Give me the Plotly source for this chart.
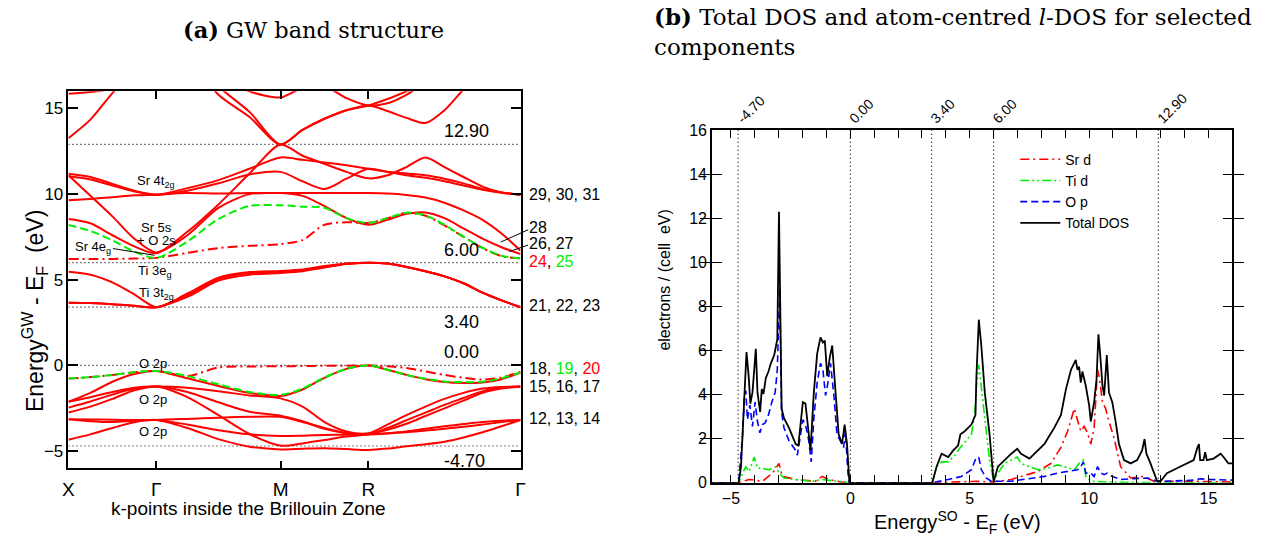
import numpy as np
import plotly.graph_objects as go

W, H = 1281, 548

# ---------------- band structure data ----------------
# high-symmetry points along X-G-M-R-G (units of 2pi/a)
k_nodes = [0.0, 0.5, 1.2071, 1.7071, 2.5731]
k_labels = ["X", "Γ", "M", "R", "Γ"]
# energies sampled at 5 points on X-G, G-M, M-R and 9 points on R-G (shared end points)
pts_per_seg = [5, 5, 5, 9]
k_grid = np.concatenate([np.linspace(k_nodes[i], k_nodes[i + 1], pts_per_seg[i])[(0 if i == 0 else 1):]
                         for i in range(4)])

# valence bands (O 2p)
band_12 = [-4.33, -4.02, -3.65, -3.31, -3.18, -3.65, -4.30, -4.74, -4.90, -4.86, -4.83, -4.88, -4.93,
           -4.85, -4.72, -4.60, -4.45, -4.20, -3.90, -3.55, -3.18]
band_13 = [-3.14, -3.15, -3.17, -3.18, -3.18, -3.12, -3.05, -3.00, -3.00, -3.30, -3.65, -3.95, -4.02,
           -3.95, -3.85, -3.70, -3.55, -3.42, -3.30, -3.22, -3.18]
band_14 = [-3.14, -3.25, -3.30, -3.23, -3.18, -3.45, -3.78, -4.02, -4.12, -4.10, -4.06, -4.04, -4.02,
           -3.97, -3.90, -3.80, -3.70, -3.58, -3.45, -3.30, -3.18]
band_15 = [-2.74, -2.40, -1.95, -1.45, -1.23, -1.85, -2.90, -4.00, -4.68, -4.55, -4.35, -4.15, -4.02,
           -3.75, -3.40, -2.95, -2.50, -2.05, -1.60, -1.35, -1.23]
band_16 = [-2.46, -2.10, -1.70, -1.35, -1.23, -1.55, -2.15, -2.70, -2.93, -3.25, -3.70, -3.95, -4.02,
           -3.65, -3.20, -2.75, -2.30, -1.90, -1.50, -1.30, -1.23]
band_17 = [-2.12, -1.85, -1.55, -1.30, -1.23, -1.30, -1.50, -1.75, -1.92, -2.40, -3.30, -3.85, -3.95,
           -3.45, -2.90, -2.40, -1.95, -1.60, -1.35, -1.25, -1.23]
band_18 = [-2.12, -1.60, -0.95, -0.50, -0.32, -0.75, -1.20, -1.60, -1.78, -1.40, -0.72, -0.20, 0.00,
           -0.25, -0.55, -0.80, -0.96, -1.02, -1.00, -0.80, -0.41]
band_19 = [-0.76, -0.68, -0.55, -0.40, -0.32, -0.62, -1.10, -1.55, -1.72, -1.35, -0.70, -0.20, 0.00,
           -0.25, -0.55, -0.78, -0.93, -0.97, -0.95, -0.75, -0.41]
band_20 = [-0.76, -0.68, -0.55, -0.40, -0.32, -0.62, -0.12, -0.06, -0.05, -0.03, -0.02, -0.01, 0.00,
           -0.05, -0.15, -0.35, -0.55, -0.72, -0.82, -0.70, -0.38]
# Ti 3t2g
band_21 = [3.66, 3.64, 3.58, 3.48, 3.40, 4.00, 4.95, 5.30, 5.40, 5.50, 5.72, 5.92, 6.00,
           5.95, 5.75, 5.50, 5.20, 4.80, 4.25, 3.80, 3.40]
band_22 = [3.66, 3.64, 3.58, 3.48, 3.40, 4.10, 5.05, 5.40, 5.47, 5.55, 5.76, 5.94, 6.00,
           5.95, 5.75, 5.50, 5.20, 4.80, 4.25, 3.80, 3.40]
band_23 = [5.47, 5.30, 4.85, 4.15, 3.40, 4.20, 5.12, 5.45, 5.52, 5.60, 5.80, 5.95, 6.00,
           5.95, 5.75, 5.50, 5.20, 4.80, 4.25, 3.80, 3.40]
# Ti 3eg / Sr 4eg
band_24 = [6.22, 6.22, 6.22, 6.24, 6.28, 6.57, 6.85, 6.98, 7.08, 7.32, 8.21, 8.36, 8.32,
           8.59, 8.90, 8.74, 8.17, 7.51, 6.85, 6.38, 6.25]
band_25 = [8.20, 7.85, 7.30, 6.65, 6.28, 7.23, 8.55, 9.31, 9.35, 9.27, 9.20, 8.60, 8.32,
           8.60, 8.92, 8.76, 8.20, 7.52, 6.87, 6.40, 6.25]
# Sr 5s + O 2s and higher bands
band_26 = [8.55, 8.30, 7.60, 6.95, 6.55, 7.80, 9.40, 11.20, 12.90, 12.24, 11.77, 11.30, 10.92,
           11.10, 11.58, 12.14, 11.58, 11.00, 10.44, 10.10, 9.97]
band_27 = [11.10, 9.90, 8.70, 7.40, 6.60, 7.60, 9.20, 10.00, 10.06, 10.06, 10.06, 10.06, 10.06,
           10.03, 9.95, 9.80, 9.50, 9.05, 8.50, 7.70, 6.70]
band_28 = [9.64, 9.72, 9.82, 9.93, 9.97, 10.06, 10.03, 10.06, 10.06, 9.90, 9.30, 8.60, 8.21,
           8.50, 8.85, 8.93, 8.60, 8.00, 7.40, 6.90, 6.50]
band_29 = [11.19, 11.00, 10.60, 10.20, 9.97, 10.35, 10.82, 11.48, 12.14, 12.00, 11.85, 11.68, 11.48,
           11.30, 11.20, 11.10, 10.90, 10.63, 10.30, 10.10, 9.97]
band_30 = [11.04, 10.85, 10.50, 10.15, 9.97, 10.20, 10.63, 11.15, 11.30, 10.75, 10.30, 10.90, 11.48,
           11.30, 11.10, 10.95, 10.75, 10.50, 10.25, 10.08, 9.97]
band_31 = [13.27, 14.35, 15.90, 17.30, 18.50, 18.00, 15.80, 14.50, 12.90, 13.75, 14.40, 14.90, 15.17,
           14.85, 14.45, 14.15, 14.90, 16.10, 17.00, 17.50, 18.00]
band_32 = [15.86, 15.96, 16.15, 16.60, 17.20, 18.50, 16.30, 14.80, 12.90, 13.75, 14.40, 14.90, 15.17,
           15.55, 16.00, 16.50, 17.00, 17.50, 18.00, 18.50, 19.00]
band_33 = [17.50, 17.80, 18.20, 18.60, 19.00, 18.00, 17.00, 16.00, 15.64, 16.20, 16.30, 15.60, 15.17,
           15.30, 15.80, 16.50, 17.00, 17.50, 18.00, 18.50, 19.00]

solid_bands = [band_12, band_13, band_14, band_15, band_16, band_17, band_18,
               band_21, band_22, band_23, band_26, band_27, band_28, band_29,
               band_30, band_31, band_32, band_33]
dashdot_bands = [band_20, band_24]
green_bands = [band_19, band_25]

ref_levels = [-4.70, 0.00, 3.40, 6.00, 12.90]
ref_text = ["-4.70", "0.00", "3.40", "6.00", "12.90"]

# ---------------- DOS data ----------------
tot_E = [-6.0, -4.68, -4.58, -4.44, -4.35, -4.26, -4.19, -4.10, -3.96, -3.89, -3.78, -3.71, -3.64, -3.54,
         -3.43, -3.33, -3.19, -3.06, -2.99, -2.88, -2.78, -2.57, -2.29, -2.18, -2.08, -1.99, -1.88,
         -1.76, -1.67, -1.53, -1.39, -1.25, -1.15, -1.07, -0.97, -0.86, -0.76, -0.63, -0.49, -0.35,
         -0.24, -0.14, -0.04, 3.43, 3.61, 3.82, 3.96, 4.10, 4.31, 4.51, 4.61, 4.79, 5.07, 5.24, 5.28,
         5.38, 5.49, 5.63, 5.83, 6.00, 6.18, 6.46, 6.74, 6.99, 7.15, 7.50, 7.85, 8.13, 8.33, 8.54,
         8.82, 9.03, 9.24, 9.38, 9.44, 9.51, 9.58, 9.65, 9.72, 9.86, 10.00, 10.07, 10.21, 10.31,
         10.39, 10.46, 10.56, 10.63, 10.74, 10.83, 10.97, 11.11, 11.25, 11.46, 11.74, 12.01, 12.22,
         12.32, 12.40, 12.57, 12.85, 12.99, 13.26, 13.68, 14.10, 14.38, 14.54, 14.60, 14.65, 14.79,
         14.86, 14.93, 15.21, 15.42, 15.51, 15.63, 15.83, 16.04]
tot_D = [0.0, 0.0, 0.73, 4.25, 5.93, 4.84, 3.59, 4.10, 6.08, 4.10, 3.22, 4.25, 4.03, 4.76,
         5.05, 5.42, 5.79, 6.52, 12.3, 3.37, 2.93, 2.49, 1.76, 1.69, 2.64, 3.66, 3.59,
         2.49, 1.47, 4.10, 5.86, 6.60, 6.37, 6.45, 4.84, 5.70, 6.23, 4.25, 2.20, 1.76,
         2.64, 1.76, 0.0, 0.0, 0.73, 1.32, 1.25, 1.17, 1.47, 1.69, 2.20, 2.34, 2.64, 3.08, 4.84,
         7.40, 6.15, 4.10, 2.20, 0.05, 0.73, 1.03, 1.32, 1.54, 1.32, 1.10, 1.47, 1.76, 2.12, 2.49,
         3.08, 4.25, 5.13, 5.42, 5.57, 5.13, 5.27, 4.54, 5.05, 4.40, 3.52, 2.78, 3.66, 4.69,
         6.74, 5.86, 4.40, 3.96, 5.79, 4.10, 3.66, 2.78, 1.76, 1.03, 0.88, 1.03, 1.47,
         1.98, 1.32, 0.88, 0.07, 0.07, 0.44, 0.66, 0.88, 1.03, 1.61, 1.76, 1.03, 1.03,
         1.39, 1.03, 1.10, 1.25, 1.32, 1.17, 0.88, 0.88]

op_E = [-6.0, -4.68, -4.51, -4.44, -4.38, -4.31, -4.21, -4.10, -3.99, -3.89, -3.79, -3.68, -3.57, -3.43,
        -3.29, -3.15, -3.06, -2.96, -2.88, -2.78, -2.57, -2.29, -2.22, -2.08, -1.99, -1.88, -1.74,
        -1.64, -1.53, -1.39, -1.25, -1.15, -1.04, -0.94, -0.83, -0.69, -0.56, -0.42, -0.28, -0.21,
        -0.10, -0.04, 3.43, 4.10, 4.65, 5.07, 5.28, 5.38, 5.49, 5.69, 5.90, 6.18, 6.74, 7.43, 8.13,
        8.68, 9.24, 9.51, 9.65, 9.76, 9.86, 10.07, 10.21, 10.35, 10.49, 10.63, 10.76, 10.97, 11.32,
        11.74, 12.15, 12.43, 12.85, 13.26, 14.38, 14.65, 15.07, 16.04]
op_D = [0.0, 0.0, 2.20, 3.96, 4.18, 2.86, 3.52, 2.56, 3.66, 2.78, 2.27, 2.64, 2.71, 3.08,
        3.66, 4.10, 5.13, 8.80, 3.22, 2.49, 1.90, 1.47, 1.25, 2.20, 2.86, 2.64, 1.90,
        0.95, 2.93, 4.54, 5.42, 5.13, 3.96, 4.54, 5.42, 3.96, 2.20, 1.90, 1.61, 2.34,
        0.44, 0.0, 0.0, 0.15, 0.29, 0.59, 1.17, 1.14, 0.59, 0.22, 0.07, 0.07, 0.07, 0.18, 0.29,
        0.44, 0.56, 0.59, 0.73, 0.95, 0.44, 0.44, 0.29, 0.73, 0.44, 0.37, 0.44, 0.29, 0.15,
        0.18, 0.22, 0.22, 0.07, 0.07, 0.12, 0.18, 0.15, 0.12]

tid_E = [-6.0, -4.68, -4.51, -4.38, -4.24, -4.03, -3.89, -3.68, -3.40, -3.13, -2.99, -2.78, -2.29, -1.60,
         -1.18, -0.63, -0.04, 3.43, 3.61, 3.82, 4.10, 4.38, 4.61, 4.79, 5.07, 5.21, 5.28, 5.38, 5.49,
         5.63, 5.83, 6.00, 6.18, 6.46, 6.74, 6.99, 7.15, 7.50, 7.85, 8.26, 8.68, 8.96, 9.38, 9.58,
         9.76, 9.86, 10.07, 10.90, 13.00, 16.04]
tid_D = [0.0, 0.0, 0.44, 0.73, 0.51, 1.17, 0.66, 0.66, 0.59, 0.73, 0.44, 0.22, 0.15, 0.07,
         0.15, 0.07, 0.0, 0.0, 0.73, 0.95, 0.95, 1.25, 1.61, 1.83, 2.20, 3.08, 4.40, 5.35, 4.25,
         2.93, 1.03, 0.07, 0.44, 0.88, 1.03, 1.17, 0.88, 0.73, 0.59, 0.66, 0.81, 0.73, 0.59, 0.88,
         1.03, 0.29, 0.07, 0.03, 0.0, 0.0]

srd_E = [-6.0, -4.68, -4.51, -4.24, -3.68, -3.26, -2.99, -2.85, -2.29, -1.46, -1.18, -0.90, -0.35, -0.04,
         3.43, 4.65, 5.35, 5.90, 6.74, 7.15, 7.85, 8.40, 8.82, 9.10, 9.38, 9.51, 9.65, 9.79, 9.93,
         10.07, 10.21, 10.35, 10.42, 10.56, 10.69, 10.83, 11.04, 11.32, 11.74, 12.29, 12.71, 13.26,
         14.38, 16.04]
srd_D = [0.0, 0.0, 0.07, 0.15, 0.07, 0.44, 0.88, 0.29, 0.15, 0.07, 0.29, 0.15, 0.03, 0.0,
         0.0, 0.03, 0.07, 0.03, 0.15, 0.29, 0.51, 0.88, 1.61, 2.34, 3.37, 2.86, 2.34, 2.56, 2.27,
         1.76, 2.49, 5.13, 4.84, 3.66, 3.37, 2.78, 2.05, 0.73, 0.22, 0.29, 0.07, 0.07,
         0.07, 0.03]

# ---------------- figure ----------------
RED, GREEN, BLUE = "#ff0000", "#00ee00", "#0000ff"
SANS = "Liberation Sans, Arial, sans-serif"
SERIF = "DejaVu Serif, serif"
DOS_RANGE = [-5.8, 16]


def px(x):
    return x / W


def py(y):
    return 1 - y / H


fig = go.Figure()

# reference levels
for lv in ref_levels:
    fig.add_trace(go.Scatter(x=[k_nodes[0], k_nodes[-1]], y=[lv, lv], mode="lines",
                             line=dict(color="black", width=1.2, dash="1px,3px"),
                             showlegend=False, hoverinfo="skip", xaxis="x", yaxis="y"))
    fig.add_trace(go.Scatter(x=[lv, lv], y=[0, 16], mode="lines",
                             line=dict(color="black", width=1.2, dash="1px,3px"),
                             showlegend=False, hoverinfo="skip", xaxis="x2", yaxis="y2"))

spl = dict(shape="spline", smoothing=0.8)
for b in solid_bands:
    fig.add_trace(go.Scatter(x=k_grid, y=b, mode="lines", line=dict(color=RED, width=2, **spl),
                             showlegend=False, hoverinfo="skip", xaxis="x", yaxis="y"))
for b in dashdot_bands:
    fig.add_trace(go.Scatter(x=k_grid, y=b, mode="lines",
                             line=dict(color=RED, width=2, dash="10px,4px,2px,4px", **spl),
                             showlegend=False, hoverinfo="skip", xaxis="x", yaxis="y"))
for b in green_bands:
    fig.add_trace(go.Scatter(x=k_grid, y=b, mode="lines",
                             line=dict(color=GREEN, width=2, dash="8px,4px", **spl),
                             showlegend=False, hoverinfo="skip", xaxis="x", yaxis="y"))

# DOS curves
fig.add_trace(go.Scatter(x=srd_E, y=srd_D, mode="lines", name="Sr d",
                         line=dict(color=RED, width=1.6, dash="9px,4px,2px,4px"), xaxis="x2", yaxis="y2"))
fig.add_trace(go.Scatter(x=tid_E, y=tid_D, mode="lines", name="Ti d",
                         line=dict(color=GREEN, width=1.6, dash="9px,3px,2px,3px,2px,3px"), xaxis="x2", yaxis="y2"))
fig.add_trace(go.Scatter(x=op_E, y=op_D, mode="lines", name="O p",
                         line=dict(color=BLUE, width=1.6, dash="7px,4px"), xaxis="x2", yaxis="y2"))
fig.add_trace(go.Scatter(x=tot_E, y=tot_D, mode="lines", name="Total DOS",
                         line=dict(color="black", width=1.8), xaxis="x2", yaxis="y2"))
# keeps the top axis of the DOS panel alive
fig.add_trace(go.Scatter(x=[0], y=[0], mode="markers", marker=dict(opacity=0), showlegend=False,
                         hoverinfo="skip", xaxis="x3", yaxis="y2"))

axis_common = dict(showline=True, linecolor="black", linewidth=1.5, showgrid=False, zeroline=False,
                   ticks="inside", tickcolor="black", mirror="allticks")

fig.update_layout(
    width=W, height=H, margin=dict(l=0, r=0, t=0, b=0),
    paper_bgcolor="white", plot_bgcolor="white",
    xaxis=dict(domain=[px(63), px(519)], range=[k_nodes[0], k_nodes[-1]], tickvals=k_nodes, ticktext=k_labels,
               ticklen=8, tickwidth=1.5, ticklabelstandoff=3,
               tickfont=dict(family=SANS, size=19, color="black"), **axis_common),
    yaxis=dict(domain=[py(475), py(86)], range=[-6, 16], tickvals=[-5, 0, 5, 10, 15],
               ticklen=10, tickwidth=1.5, tickfont=dict(family=SANS, size=17, color="black"), **axis_common),
    xaxis2=dict(domain=[px(712), px(1237)], range=DOS_RANGE, tickvals=[-5, 0, 5, 10, 15], anchor="y2",
                ticklen=8, tickwidth=1.2, tickfont=dict(family=SANS, size=16, color="black"),
                minor=dict(dtick=1, tick0=0, ticks="inside", ticklen=8, tickcolor="black", tickwidth=1.2), **axis_common),
    yaxis2=dict(domain=[py(490), py(126)], range=[0, 16], tickvals=list(range(0, 17, 2)), anchor="x2",
                ticklen=10, tickwidth=1.2, tickfont=dict(family=SANS, size=16, color="black"), **axis_common),
    xaxis3=dict(overlaying="x2", side="top", anchor="y2", range=DOS_RANGE, tickvals=ref_levels, ticktext=ref_text,
                tickangle=-45, ticks="", showline=False, showgrid=False, zeroline=False,
                tickfont=dict(family=SANS, size=14, color="black")),
    legend=dict(x=px(1018), y=py(140), xanchor="left", yanchor="top", bgcolor="rgba(0,0,0,0)",
                font=dict(family=SANS, size=14, color="black"), tracegroupgap=0, itemwidth=40),
    showlegend=True,
)

C = dict(xanchor="center", yanchor="middle", showarrow=False)
ann = []
# titles
ann.append(dict(text="<b>(a)</b> GW band structure", x=px(310), y=py(23), xref="paper", yref="paper",
                font=dict(family=SERIF, size=22.5, color="black"), **C))
ann.append(dict(text="<b>(b)</b> Total DOS and atom-centred <i>l</i>-DOS for selected<br>components",
                x=px(652), y=py(24), xref="paper", yref="paper", xanchor="left", yanchor="middle", align="left",
                showarrow=False, font=dict(family=SERIF, size=23, color="black")))
# axis titles
ann.append(dict(text="Energy<sup>GW</sup> - E<sub>F</sub>  (eV)", x=px(29), y=py(313), xref="paper", yref="paper",
                textangle=-90, font=dict(family=SANS, size=23, color="black"), **C))
ann.append(dict(text="k-points inside the Brillouin Zone", x=px(245), y=py(517), xref="paper", yref="paper",
                font=dict(family=SANS, size=19, color="black"), **C))
ann.append(dict(text="electrons / (cell  eV)", x=px(664), y=py(281), xref="paper", yref="paper",
                textangle=-90, font=dict(family=SANS, size=16, color="black"), **C))
ann.append(dict(text="Energy<sup>SO</sup> - E<sub>F</sub> (eV)", x=px(960), y=py(531), xref="paper", yref="paper",
                font=dict(family=SANS, size=20, color="black"), **C))
# reference level values in the band panel (left edge of the text at a fixed k)
for lv, t in zip(ref_levels, ref_text):
    above = lv in (12.90, 6.00, 0.00)
    ann.append(dict(text=t, x=2.127, y=lv, xref="x", yref="y", xanchor="left",
                    yanchor="bottom" if above else "top",
                    yshift=1 if above else -3, showarrow=False, font=dict(family=SANS, size=18, color="black")))
# orbital character labels
lab = [("Sr 4t<sub>2g</sub>", 0.50, 10.75), ("Sr 5s", 0.50, 8.05), ("+ O 2s", 0.50, 7.32),
       ("Ti 3e<sub>g</sub>", 0.49, 5.5), ("Ti 3t<sub>2g</sub>", 0.50, 4.2),
       ("O 2p", 0.48, 0.13), ("O 2p", 0.48, -1.97), ("O 2p", 0.48, -3.83)]
for t, kx, ey in lab:
    ann.append(dict(text=t, x=kx, y=ey, xref="x", yref="y", font=dict(family=SANS, size=13, color="black"), **C))
ann.append(dict(text="Sr 4e<sub>g</sub>", x=0.14, y=6.9, xref="x", yref="y",
                font=dict(family=SANS, size=13, color="black"), **C))
ann.append(dict(x=0.49, y=6.43, ax=-43, ay=-7, xref="x", yref="y", text="",
                showarrow=True, arrowhead=0, arrowwidth=1, arrowcolor="black"))
# band index labels on the right
idx = [("29, 30, 31", 10.0), ("28", 8.05), ("26, 27", 7.12),
       ("<span style='color:#ff0000'>24</span>, <span style='color:#00ee00'>25</span>", 6.05),
       ("21, 22, 23", 3.5), ("18, <span style='color:#00ee00'>19</span>, <span style='color:#ff0000'>20</span>", -0.2),
       ("15, 16, 17", -1.2), ("12, 13, 14", -3.1)]
for t, ey in idx:
    ann.append(dict(text=t, x=px(526), y=ey, xref="paper", yref="y", xanchor="left", yanchor="middle",
                    showarrow=False, font=dict(family=SANS, size=16, color="black")))
ann.append(dict(x=2.46, y=7.2, ax=29, ay=-13, xref="x", yref="y", text="",
                showarrow=True, arrowhead=0, arrowwidth=1, arrowcolor="black"))
ann.append(dict(x=2.51, y=6.65, ax=20, ay=-7, xref="x", yref="y", text="",
                showarrow=True, arrowhead=0, arrowwidth=1, arrowcolor="black"))
fig.update_layout(annotations=ann)

fig.write_html("out.html")
